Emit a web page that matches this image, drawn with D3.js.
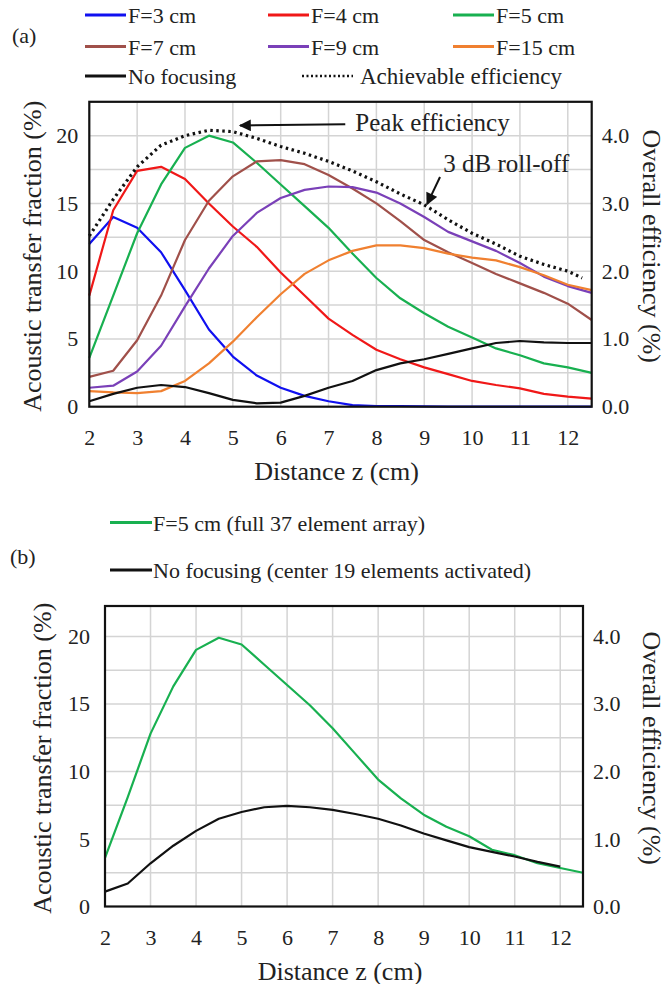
<!DOCTYPE html>
<html>
<head>
<meta charset="utf-8">
<script src="https://cdn.jsdelivr.net/npm/d3@7"></script>
<style>
  html, body { margin: 0; padding: 0; background: #fff; }
  svg { display: block; }
  svg text { font-family: 'Liberation Serif', 'Times New Roman', Tinos, 'DejaVu Serif', serif !important; fill: #222; }
</style>
</head>
<body>
<svg id="chart" width="670" height="984"></svg>
<script>
// ---------------- DATA ----------------
const distance = [2, 2.5, 3, 3.5, 4, 4.5, 5, 5.5, 6, 6.5, 7, 7.5, 8, 8.5, 9, 9.5, 10, 10.5, 11, 11.5, 12, 12.5];
const xTicks = [2, 3, 4, 5, 6, 7, 8, 9, 10, 11, 12];
const leftTicks = [0, 5, 10, 15, 20];
const rightTicks = [0, 1, 2, 3, 4];

// Panel (a): acoustic transfer fraction (%)
const f3cm  = [12.0, 14.0, 13.2, 11.4, 8.6, 5.7, 3.7, 2.3, 1.4, 0.8, 0.4, 0.12, 0.05, 0.05, 0.02, 0, 0, 0, 0, 0, 0, 0];
const f4cm  = [8.2, 14.5, 17.4, 17.7, 16.8, 15.0, 13.3, 11.8, 9.9, 8.2, 6.5, 5.3, 4.2, 3.5, 2.9, 2.4, 1.9, 1.6, 1.35, 0.95, 0.75, 0.6];
const f5cm  = [3.6, 8.2, 12.8, 16.4, 19.1, 20.0, 19.5, 18.0, 16.4, 14.8, 13.2, 11.3, 9.5, 8.0, 6.9, 5.9, 5.1, 4.3, 3.8, 3.2, 2.9, 2.5];
const f7cm  = [2.2, 2.65, 4.9, 8.2, 12.3, 15.2, 17.0, 18.1, 18.2, 17.9, 17.1, 16.1, 15.0, 13.7, 12.3, 11.4, 10.6, 9.8, 9.1, 8.4, 7.6, 6.4];
const f9cm  = [1.4, 1.55, 2.6, 4.5, 7.4, 10.2, 12.6, 14.3, 15.4, 16.0, 16.25, 16.2, 15.8, 15.0, 14.0, 12.9, 12.2, 11.5, 10.6, 9.6, 8.9, 8.4];
const f15cm = [1.15, 1.05, 1.0, 1.15, 1.9, 3.2, 4.8, 6.6, 8.3, 9.8, 10.8, 11.5, 11.9, 11.9, 11.7, 11.3, 11.0, 10.8, 10.3, 9.7, 9.0, 8.6];
const noFocus = [0.4, 0.95, 1.4, 1.6, 1.45, 1.0, 0.5, 0.25, 0.3, 0.8, 1.4, 1.9, 2.7, 3.2, 3.5, 3.9, 4.3, 4.7, 4.85, 4.75, 4.7, 4.7];
const achievableX = [2, 2.5, 3, 3.5, 4, 4.5, 5, 5.5, 6, 6.5, 7, 7.5, 8, 8.5, 9, 9.5, 10, 10.5, 11, 11.5, 12, 12.3];
const achievable  = [12.6, 15.3, 17.7, 19.3, 20.0, 20.4, 20.3, 19.8, 19.2, 18.7, 18.1, 17.4, 16.6, 15.7, 14.9, 13.8, 12.8, 12.0, 11.1, 10.5, 10.0, 9.5];

// Panel (b)
const f5full = [3.6, 8.1, 12.8, 16.3, 19.0, 19.9, 19.4, 17.9, 16.4, 14.9, 13.2, 11.3, 9.4, 8.0, 6.8, 5.9, 5.2, 4.2, 3.8, 3.2, 2.85, 2.5];
const noFocusX = [2, 2.5, 3, 3.5, 4, 4.5, 5, 5.5, 6, 6.5, 7, 7.5, 8, 8.5, 9, 9.5, 10, 10.5, 11, 11.5, 12];
const noFocus19 = [1.1, 1.7, 3.2, 4.5, 5.6, 6.5, 7.0, 7.35, 7.45, 7.35, 7.15, 6.85, 6.5, 6.0, 5.4, 4.9, 4.4, 4.05, 3.7, 3.3, 2.95];

const seriesNamesA = ["F=3 cm", "F=4 cm", "F=5 cm", "F=7 cm", "F=9 cm", "F=15 cm", "No focusing", "Achievable efficiency"];
const seriesColorsA = ["#1010f0", "#f01818", "#18b050", "#a0504a", "#7a40b8", "#f08030", "#111111", "#111111"];
const seriesNamesB = ["F=5 cm (full 37 element array)", "No focusing (center 19 elements activated)"];
const seriesColorsB = ["#18b050", "#111111"];

const SERIF = "'Liberation Serif', 'Times New Roman', Tinos, 'DejaVu Serif', serif";

// ---------------- DRAW ----------------
const svg = d3.select("#chart");
const defs = svg.append("defs");
defs.append("marker").attr("id", "arrow").attr("viewBox", "0 0 10 10")
  .attr("refX", 9).attr("refY", 5).attr("markerWidth", 14).attr("markerHeight", 12)
  .attr("markerUnits", "userSpaceOnUse").attr("orient", "auto")
  .append("path").attr("d", "M0,0 L10,5 L0,10 z").attr("fill", "#111");

function drawPanel(cfg) {
  const x = d3.scaleLinear().domain([2, 12.5]).range([cfg.left, cfg.right]);
  const y = d3.scaleLinear().domain([0, cfg.yTop]).range([cfg.bottom, cfg.top]);
  const y2 = y.copy().domain([0, cfg.yTop * 0.2]);
  const g = svg.append("g");

  // grid
  const hGrid = d3.range(2.5, cfg.yTop - 0.01, 2.5);
  g.append("g").selectAll("line").data(hGrid).join("line")
    .attr("x1", cfg.left).attr("x2", cfg.right)
    .attr("y1", d => y(d)).attr("y2", d => y(d))
    .attr("stroke", "#d4d4d4").attr("stroke-width", 1.5);
  g.append("g").selectAll("line").data(xTicks.slice(1)).join("line")
    .attr("y1", cfg.top).attr("y2", cfg.bottom)
    .attr("x1", d => x(d)).attr("x2", d => x(d))
    .attr("stroke", "#d4d4d4").attr("stroke-width", 1.5);

  // series
  const line = d3.line().x(d => x(d[0])).y(d => y(d[1]));
  cfg.series.forEach(s => {
    g.append("path").datum(s.xs.map((v, i) => [v, s.ys[i]]))
      .attr("d", line).attr("fill", "none")
      .attr("stroke", s.color).attr("stroke-width", s.dotted ? 3.2 : 2.2)
      .attr("stroke-dasharray", s.dotted ? "2.5,3.5" : null)
      .attr("stroke-linejoin", "round");
  });

  // frame
  g.append("rect").attr("x", cfg.left).attr("y", cfg.top)
    .attr("width", cfg.right - cfg.left).attr("height", cfg.bottom - cfg.top)
    .attr("fill", "none").attr("stroke", "#111").attr("stroke-width", 2.2);

  // axes
  const ax = g.append("g").attr("transform", `translate(0,${cfg.bottom})`)
    .call(d3.axisBottom(x).tickValues(xTicks).tickSize(0).tickPadding(cfg.xPad).tickFormat(d3.format("d")));
  const ayl = g.append("g").attr("transform", `translate(${cfg.left},0)`)
    .call(d3.axisLeft(y).tickValues(leftTicks).tickSize(0).tickPadding(cfg.lPad).tickFormat(d3.format("d")));
  const ayr = g.append("g").attr("transform", `translate(${cfg.right},0)`)
    .call(d3.axisRight(y2).tickValues(rightTicks).tickSize(0).tickPadding(10).tickFormat(d3.format(".1f")));
  [ax, ayl, ayr].forEach(a => {
    a.attr("font-family", SERIF).attr("font-size", 22);
    a.select(".domain").remove();
    a.selectAll("text").attr("font-family", SERIF).attr("font-size", 22).attr("fill", "#222");
  });

  // titles
  g.append("text").attr("x", (cfg.left + cfg.right) / 2 - 4).attr("y", cfg.bottom + 73)
    .attr("text-anchor", "middle").attr("font-size", 26).text("Distance z (cm)");
  g.append("text").attr("transform", `translate(${cfg.lTitleX},${(cfg.top + cfg.bottom) / 2 + 2}) rotate(-90)`)
    .attr("text-anchor", "middle").attr("font-size", 26).attr("dy", "0.35em").text("Acoustic transfer fraction (%)");
  g.append("text").attr("transform", `translate(652,${(cfg.top + cfg.bottom) / 2 - 8}) rotate(90)`)
    .attr("text-anchor", "middle").attr("font-size", 26).attr("dy", "0.35em").text("Overall efficiency (%)");
  return { x, y };
}

// Panel (a)
const seriesA = [f3cm, f4cm, f5cm, f7cm, f9cm, f15cm, noFocus].map((ys, i) => ({ xs: distance, ys, color: seriesColorsA[i] }));
seriesA.push({ xs: achievableX, ys: achievable, color: seriesColorsA[7], dotted: true });
const pa = drawPanel({ left: 89.3, right: 591.7, top: 101.8, bottom: 406.7, yTop: 22.5, xPad: 23, lPad: 11, lTitleX: 32, series: seriesA });

// Panel (b)
const seriesB = [
  { xs: distance, ys: f5full, color: seriesColorsB[0] },
  { xs: noFocusX, ys: noFocus19, color: seriesColorsB[1] }
];
const pb = drawPanel({ left: 105, right: 583, top: 606, bottom: 906.5, yTop: 22.25, xPad: 23, lPad: 15, lTitleX: 42, series: seriesB });

// Annotations (panel a)
const ann = svg.append("g");
ann.append("line").attr("x1", pa.x(7.35)).attr("y1", pa.y(20.85)).attr("x2", pa.x(5.15)).attr("y2", pa.y(20.75))
  .attr("stroke", "#111").attr("stroke-width", 2).attr("marker-end", "url(#arrow)");
ann.append("text").attr("x", pa.x(7.56)).attr("y", pa.y(20.35)).attr("font-size", 25).text("Peak efficiency");
ann.append("line").attr("x1", pa.x(9.33)).attr("y1", pa.y(16.95)).attr("x2", pa.x(9.06)).attr("y2", pa.y(14.95))
  .attr("stroke", "#111").attr("stroke-width", 2).attr("marker-end", "url(#arrow)");
ann.append("text").attr("x", pa.x(9.4)).attr("y", pa.y(17.3)).attr("font-size", 25).text("3 dB roll-off");

// Legend (a)
svg.append("text").attr("x", 12).attr("y", 43).attr("font-size", 22).text("(a)");
const legA = svg.append("g");
const colX = [85, 268, 453];
const rowY = [15, 46.5, 76];
seriesNamesA.forEach((name, i) => {
  let cx, cy, len = 41;
  if (i < 6) { cx = colX[i % 3]; cy = rowY[Math.floor(i / 3)]; }
  else if (i === 6) { cx = colX[0]; cy = rowY[2]; }
  else { cx = 302; cy = rowY[2]; len = 51; }
  legA.append("line").attr("x1", cx).attr("x2", cx + len).attr("y1", cy).attr("y2", cy)
    .attr("stroke", seriesColorsA[i]).attr("stroke-width", i === 7 ? 2.5 : 3)
    .attr("stroke-dasharray", i === 7 ? "2,2.5" : null);
  legA.append("text").attr("x", cx + len + (i === 7 ? 7 : 2)).attr("y", cy + 8)
    .attr("font-size", i === 7 ? 23 : 22).text(name);
});

// Legend (b)
svg.append("text").attr("x", 10).attr("y", 564).attr("font-size", 22).text("(b)");
const legB = svg.append("g");
[522.5, 570].forEach((cy, i) => {
  legB.append("line").attr("x1", 110).attr("x2", 152).attr("y1", cy).attr("y2", cy)
    .attr("stroke", seriesColorsB[i]).attr("stroke-width", 3);
  legB.append("text").attr("x", 153).attr("y", cy + 8).attr("font-size", 22).text(seriesNamesB[i]);
});

svg.selectAll("text").attr("font-family", SERIF);
</script>
</body>
</html>
